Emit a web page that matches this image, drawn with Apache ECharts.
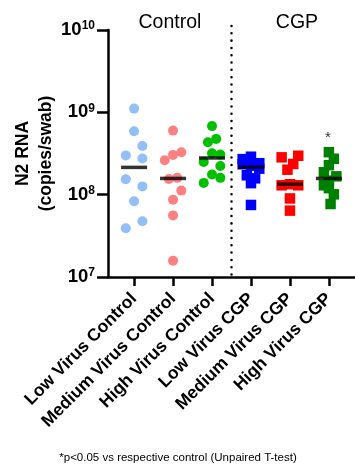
<!DOCTYPE html>
<html>
<head>
<meta charset="utf-8">
<script src="https://cdn.jsdelivr.net/npm/echarts@6/dist/echarts.min.js"></script>
<style>
  html, body { margin: 0; padding: 0; background: #fff; }
  #main { width: 355px; height: 466px; }
</style>
</head>
<body>
<div id="main"></div>
<script>
// categories
const groups = ['Low Virus Control', 'Medium Virus Control', 'High Virus Control',
  'Low Virus CGP', 'Medium Virus CGP', 'High Virus CGP']

// N2 RNA copies per swab
const lowControl = [1.11e9, 5.9e8, 3.9e8, 3.0e8, 2.75e8, 1.54e8, 1.26e8, 8.3e7, 4.75e7, 3.9e7]
const mediumControl = [6.0e8, 3.28e8, 3.04e8, 2.62e8, 1.6e8, 1.55e8, 1.12e8, 8.7e7, 5.6e7, 1.58e7]
const highControl = [6.8e8, 4.76e8, 4.34e8, 3.19e8, 3.08e8, 2.5e8, 2.23e8, 1.76e8, 1.6e8, 1.39e8]
const lowCGP = [2.89e8, 2.7e8, 2.41e8, 2.34e8, 2.25e8, 2.07e8, 1.72e8, 1.58e8, 1.38e8, 7.5e7]
const mediumCGP = [2.97e8, 2.84e8, 2.36e8, 2.01e8, 1.34e8, 1.3e8, 1.3e8, 9.0e7, 6.4e7]
const highCGP = [3.28e8, 2.73e8, 2.28e8, 1.87e8, 1.67e8, 1.48e8, 1.3e8, 1.2e8, 1.01e8, 7.7e7]

// scatter lane of each point (column of the swarm, -1 left .. 1 right)
const lowControlLane = [0, 0, 1, -1, 1, -1, 1, 0, 1, -1]
const mediumControlLane = [0, 1, 0, -1, 0.5, -0.5, 1, 0, 0, 0]
const highControlLane = [0, 0.5, -0.5, 0, 1, -1, 1, 0, 1, -1]
const lowCGPLane = [0, -1, 1, -1, 0, 1, -0.5, 0.5, 0, 0]
const mediumCGPLane = [1, -1, 0.4, -0.3, 0, -1, 1, 0, 0]
const highCGPLane = [0, 0.6, 0, -0.6, 0.9, 0, -0.6, 0, 0.6, 0.2]

const yTicks = [1e7, 1e8, 1e9, 1e10]

const font = 'Liberation Sans, Arial, Helvetica, sans-serif'
const laneStep = 0.213

const sets = [
  { data: lowControl, lane: lowControlLane, color: '#92bff7', symbol: 'circle' },
  { data: mediumControl, lane: mediumControlLane, color: '#ff8080', symbol: 'circle' },
  { data: highControl, lane: highControlLane, color: '#00c000', symbol: 'circle' },
  { data: lowCGP, lane: lowCGPLane, color: '#0000ff', symbol: 'rect' },
  { data: mediumCGP, lane: mediumCGPLane, color: '#ff0000', symbol: 'rect' },
  { data: highCGP, lane: highCGPLane, color: '#008000', symbol: 'rect' }
]

function median (arr) {
  const s = arr.slice().sort((a, b) => a - b)
  const m = Math.floor(s.length / 2)
  return s.length % 2 ? s[m] : (s[m - 1] + s[m]) / 2
}

const series = sets.map((g, i) => ({
  name: groups[i],
  type: 'scatter',
  symbol: g.symbol,
  symbolSize: g.symbol === 'rect' ? 10.5 : 10,
  itemStyle: { color: g.color, opacity: 1 },
  data: g.data.map((v, k) => [i + 1 + g.lane[k] * laneStep, v])
}))

series.push({
  name: 'median',
  type: 'scatter',
  symbol: 'rect',
  symbolSize: [26, 3.5],
  z: 10,
  itemStyle: { color: '#000' },
  data: sets.map((g, i) => [i + 1, median(g.data)])
})

const chart = echarts.init(document.getElementById('main'))
chart.setOption({
  animation: false,
  backgroundColor: '#fff',
  grid: { left: 108, right: 0, top: 30, bottom: 189, containLabel: false, outerBoundsMode: 'none' },
  xAxis: {
    type: 'value',
    min: 0.33,
    max: 6.67,
    splitLine: { show: false },
    axisLine: { lineStyle: { color: '#000', width: 2.5 } },
    axisTick: { show: true, customValues: [1, 2, 3, 4, 5, 6], length: 9, lineStyle: { color: '#000', width: 2.5 } },
    axisLabel: {
      customValues: [1, 2, 3, 4, 5, 6],
      rotate: 45,
      margin: 19,
      formatter: v => groups[Math.round(v) - 1],
      color: '#000',
      fontFamily: font,
      fontWeight: 'bold',
      fontSize: 17.5
    }
  },
  yAxis: {
    type: 'log',
    logBase: 10,
    min: yTicks[0],
    max: yTicks[yTicks.length - 1],
    splitLine: { show: false },
    minorTick: { show: false },
    axisLine: { show: true, lineStyle: { color: '#000', width: 2.5 } },
    axisTick: { show: true, length: 11, lineStyle: { color: '#000', width: 2.5 } },
    axisLabel: {
      margin: 13,
      formatter: v => '{b|10}{s|' + Math.round(Math.log10(v)) + '}',
      rich: {
        b: { fontFamily: font, fontWeight: 'bold', fontSize: 18.5, color: '#000', lineHeight: 20 },
        s: { fontFamily: font, fontWeight: 'bold', fontSize: 12, color: '#000', lineHeight: 12, verticalAlign: 'top' }
      }
    },
    name: 'N2 RNA\n(copies/swab)',
    nameLocation: 'middle',
    nameGap: 50,
    nameMoveOverlap: false,
    nameTextStyle: { fontFamily: font, fontWeight: 'bold', fontSize: 17.5, color: '#000', lineHeight: 23 }
  },
  series: series
})

// group headings, divider and significance marks
const px = (x, y) => chart.convertToPixel({ xAxisIndex: 0, yAxisIndex: 0 }, [x, y])
const divX = px(3.5, 1e8)[0]
const topStar = px(6, Math.max.apply(null, highCGP))
const bottomY = px(1, yTicks[0])[1]
chart.setOption({
  graphic: [
    { type: 'line', shape: { x1: divX, y1: 26, x2: divX, y2: bottomY - 2 },
      style: { stroke: '#000', lineWidth: 2.5, lineDash: [0.01, 7.3], lineCap: 'round' } },
    { type: 'text', x: px(1.92, 1e8)[0], y: 23,
      style: { text: 'Control', font: '19.5px ' + font, fill: '#000', align: 'center', verticalAlign: 'middle' } },
    { type: 'text', x: px(5.18, 1e8)[0], y: 23,
      style: { text: 'CGP', font: '19.5px ' + font, fill: '#000', align: 'center', verticalAlign: 'middle' } },
    { type: 'text', x: topStar[0] - 1, y: topStar[1] - 14,
      style: { text: '*', font: '15px ' + font, fill: '#333', align: 'center', verticalAlign: 'middle' } },
    { type: 'text', x: 178, y: 458,
      style: { text: '*p<0.05 vs respective control (Unpaired T-test)', font: '11.5px ' + font, fill: '#000', align: 'center', verticalAlign: 'middle' } }
  ]
})
</script>
</body>
</html>
